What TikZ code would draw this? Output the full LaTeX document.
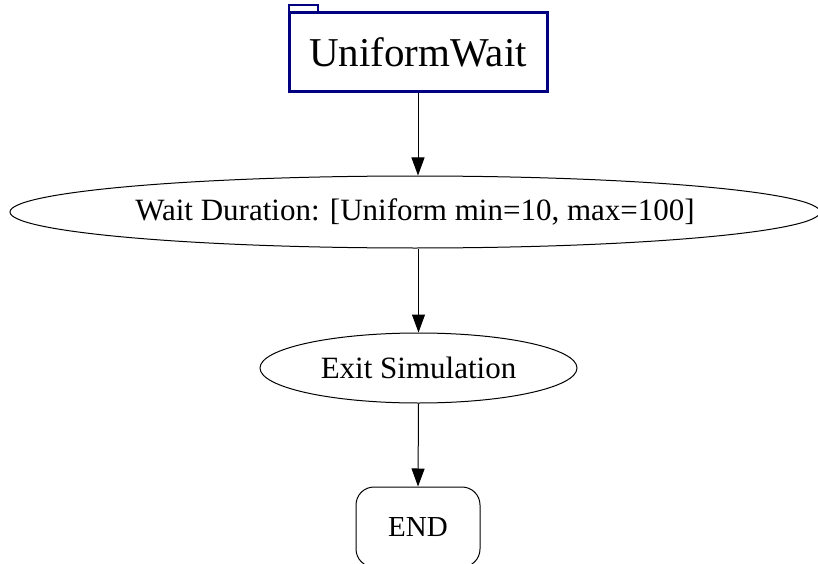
\documentclass[tikz,border=0pt]{standalone}
\usepackage{fontspec}
\setmainfont{Liberation Serif}
\usetikzlibrary{shapes.geometric,arrows.meta}
\definecolor{navyblue}{RGB}{0,0,128}
\tikzset{
  conn/.style={draw=black, line width=1pt, -{Triangle[length=18pt,width=13pt]}},
  ellnode/.style={ellipse, draw=black, line width=1pt, inner sep=0pt, font=\fontsize{31}{36}\selectfont},
  termnode/.style={rectangle, rounded corners=18pt, draw=black, line width=1pt, inner sep=0pt, font=\fontsize{29}{34}\selectfont},
  clusterbox/.style={rectangle, draw=navyblue, line width=3pt, inner sep=0pt, font=\fontsize{41}{46}\selectfont},
  tabbox/.style={rectangle, draw=navyblue, line width=2pt, fill=white, inner sep=0pt}
}
\begin{document}
\begin{tikzpicture}[x=1pt,y=-1pt]
\useasboundingbox (0,0) rectangle (818,564);
\fill[white] (0,0) rectangle (818,564);
% tab
\node[tabbox, minimum width=29pt, minimum height=8pt] (tab) at (303,9) {};
% cluster box
\node[clusterbox, minimum width=258pt, minimum height=79pt] (uw) at (418,52.5) {UniformWait};
% wait duration
\node[ellnode, minimum width=810pt, minimum height=72pt] (wait) at (415,212) {Wait Duration: [Uniform min=10, max=100]};
% exit
\node[ellnode, minimum width=317pt, minimum height=70pt] (exit) at (418.5,368) {Exit Simulation};
% end
\node[termnode, minimum width=124pt, minimum height=80pt] (end) at (418,527) {END};
\draw[conn] (uw.south) -- (uw.south |- wait.north);
\draw[conn] (exit.north |- wait.south) -- (exit.north);
\draw[conn] (exit.south) -- (end.north);
\end{tikzpicture}
\end{document}
